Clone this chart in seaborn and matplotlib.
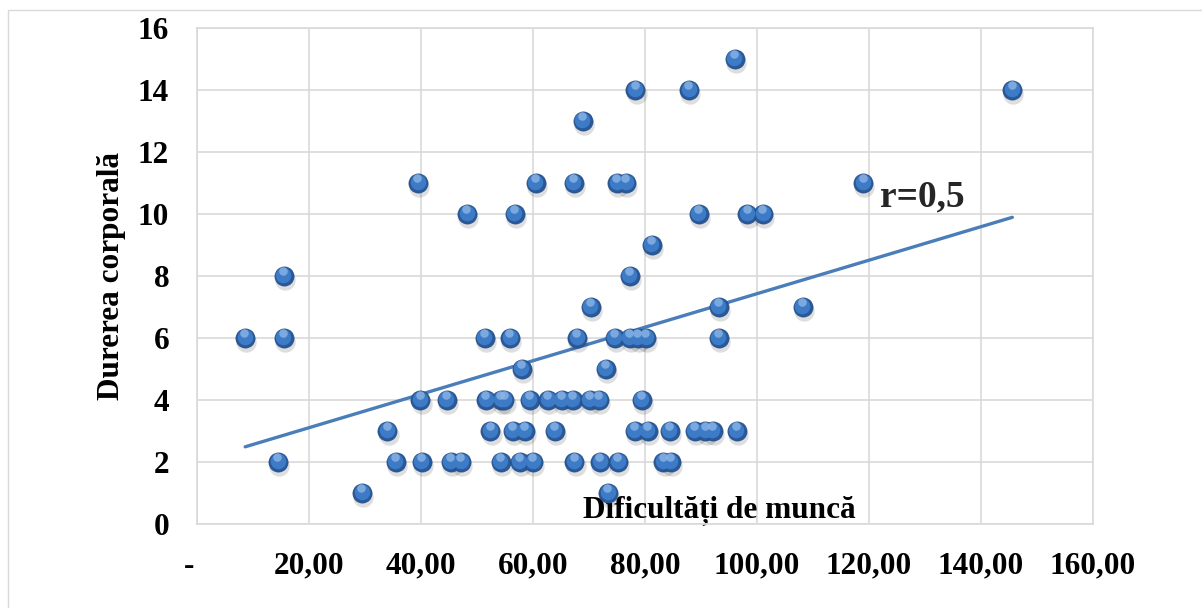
import numpy as np
import pandas as pd
import seaborn as sns
import matplotlib.pyplot as plt
from matplotlib.transforms import offset_copy
from matplotlib.patches import Rectangle

# values, grouped by level of body pain
pain_levels = [15, 14, 13, 11, 10, 9, 8, 7, 6, 5, 4, 3, 2, 1]
work_scores = [
    [96.0],
    [78.3, 87.9, 145.6],
    [68.9],
    [39.5, 60.5, 67.3, 75.0, 76.6, 119.0],
    [48.2, 56.7, 89.6, 98.3, 101.1],
    [81.2],
    [15.5, 77.3],
    [70.3, 93.2, 108.2],
    [8.6, 15.5, 51.4, 55.9, 67.9, 74.6, 77.3, 78.7, 80.2, 93.2],
    [58.0, 73.0],
    [39.9, 44.6, 51.6, 54.3, 54.9, 59.4, 62.7, 65.1, 67.1, 70.1, 71.8, 79.4],
    [34.0, 52.4, 56.4, 58.5, 63.9, 78.2, 80.5, 84.4, 88.9, 90.8, 92.1, 96.4],
    [14.5, 35.5, 40.1, 45.3, 47.2, 54.2, 57.6, 60.0, 67.4, 72.0, 75.2, 83.3, 84.6],
    [29.5, 73.4],
]
x_ticks = [0, 20, 40, 60, 80, 100, 120, 140, 160]
y_ticks = [0, 2, 4, 6, 8, 10, 12, 14, 16]
r_label = "r=0,5"

rows = []
for lvl, xs in zip(pain_levels, work_scores):
    for v in xs:
        rows.append({"munca": v, "durere": lvl})
df = pd.DataFrame(rows)

sns.set_theme(style="whitegrid")
plt.rcParams["font.family"] = ["Liberation Serif", "DejaVu Serif"]
plt.rcParams["font.weight"] = "bold"

fig = plt.figure(figsize=(12.02, 6.08), dpi=100)
ax = fig.add_axes([0.1639, 0.1382, 0.7454, 0.8157])

grid_col = "#d9d9d9"
blue = "#4a7ebb"

# trend line first so the balls sit on top of it
sns.regplot(data=df, x="munca", y="durere", ax=ax, scatter=False, ci=None,
            line_kws={"color": blue, "lw": 2.4, "zorder": 2})

# fake 3d spheres: soft shadow, dark body, lighter core, top highlight
shadow = offset_copy(ax.transData, fig=fig, x=0.8, y=-3.0, units="points")
sns.scatterplot(data=df, x="munca", y="durere", ax=ax, s=215, color="black",
                alpha=0.13, linewidth=0, transform=shadow, zorder=3)
sns.scatterplot(data=df, x="munca", y="durere", ax=ax, s=190, color="#29599a",
                edgecolor="#244d82", linewidth=0.5, zorder=4)
core = offset_copy(ax.transData, fig=fig, x=-0.3, y=1.0, units="points")
sns.scatterplot(data=df, x="munca", y="durere", ax=ax, s=125, color="#3d7bc7",
                linewidth=0, transform=core, zorder=5)
hl = offset_copy(ax.transData, fig=fig, x=-0.6, y=3.4, units="points")
sns.scatterplot(data=df, x="munca", y="durere", ax=ax, s=38, color="#8fb8e8",
                linewidth=0, alpha=0.75, transform=hl, zorder=6)

ax.set_xlim(0, 160)
ax.set_ylim(0, 16)
ax.set_xticks(x_ticks)
ax.set_xticklabels(["-  "] + [f"{v:.2f}".replace(".", ",") for v in x_ticks[1:]])
ax.set_yticks(y_ticks)
ax.set_yticklabels([str(v) for v in y_ticks])
ax.tick_params(axis="both", length=0, labelsize=22.5, pad=20, colors="black")
for lab in ax.get_xticklabels() + ax.get_yticklabels():
    lab.set_fontweight("bold")

ax.grid(True, color=grid_col, lw=1.2)
for sp in ax.spines.values():
    sp.set_color(grid_col)
    sp.set_linewidth(1.2)

ax.set_xlabel("Dificultăți de muncă", fontsize=22.5, fontweight="bold", color="black")
ax.xaxis.set_label_coords(0.5826, 0.012)
ax.xaxis.label.set_va("baseline")
ax.set_ylabel("Durerea corporală", fontsize=22.5, fontweight="bold", color="black")
ax.yaxis.set_label_coords(-0.095, 0.5)
ax.yaxis.label.set_va("center")

ax.text(122, 10.25, r_label, fontsize=27, fontweight="bold", va="baseline", zorder=7)

# chart area frame (only left and top edges fall inside the picture)
fig.patches.append(Rectangle((7.5 / 1202, -0.1), 1.2, 1.1 - 10.5 / 608,
                             transform=fig.transFigure, fill=False,
                             edgecolor=grid_col, lw=1.0))

fig.savefig("out.png", dpi=100)
